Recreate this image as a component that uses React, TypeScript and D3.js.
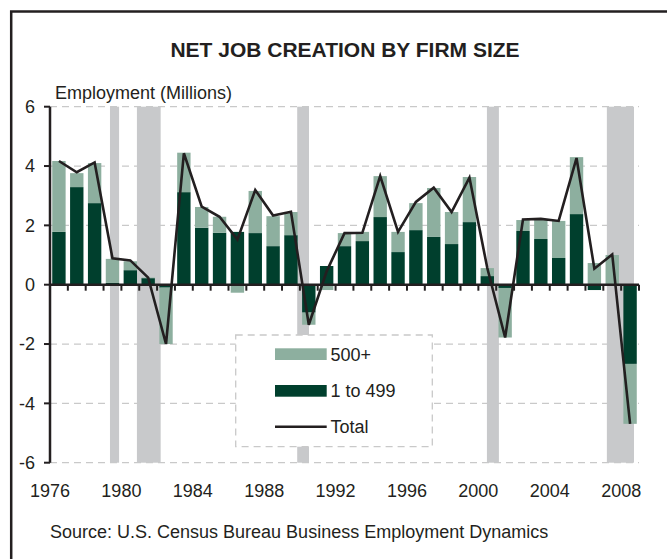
import * as d3 from "d3";

// Datos (millones de empleos)
const years = d3.range(1976, 2009);

const small = [
  1.78, 3.29, 2.75, 0.06, 0.49, 0.22, -0.1, 3.12, 1.92, 1.75, 1.78, 1.74, 1.3,
  1.67, -0.94, 0.63, 1.3, 1.47, 2.28, 1.1, 1.84, 1.61, 1.37, 2.11, 0.29, -0.11,
  1.81, 1.54, 0.9, 2.38, -0.18, 0.02, -2.67,
];

const large = [
  2.39, 0.47, 1.35, 0.81, 0.3, 0.02, -1.9, 1.33, 0.7, 0.54, -0.27, 1.42, 1.01,
  0.78, -0.41, -0.18, 0.44, 0.31, 1.38, 0.68, 0.91, 1.65, 1.08, 1.52, 0.27,
  -1.67, 0.37, 0.64, 1.25, 1.92, 0.73, 0.98, -2.02,
];

const total = [
  4.17, 3.79, 4.12, 0.89, 0.82, 0.24, -2.0, 4.43, 2.63, 2.29, 1.52, 3.19, 2.33,
  2.46, -1.35, 0.45, 1.74, 1.75, 3.66, 1.78, 2.79, 3.27, 2.45, 3.61, 0.56,
  -1.78, 2.2, 2.22, 2.15, 4.27, 0.54, 1.02, -4.69,
];

// Recesiones (en unidades del eje de años)
const recessions: [number, number][] = [
  [1979.36, 1979.87],
  [1980.87, 1982.2],
  [1989.85, 1990.51],
  [2000.48, 2001.15],
  [2007.2, 2008.72],
];

const yTickValues = [6, 4, 2, 0, -2, -4, -6];
const gridValues = [6, 4, 2, -2, -4, -6];
const xLabelYears = [1976, 1980, 1984, 1988, 1992, 1996, 2000, 2004, 2008];

const legendItems = ["500+", "1 to 499", "Total"];

const DARK = "#003f2d";
const LIGHT = "#8daf9f";
const GREY = "#c8c9cb";
const INK = "#231f20";
const GRID = "#c9c9c9";
const FONT = "Arial, 'Liberation Sans', Helvetica, sans-serif";

export default function App() {
  const width = 667;
  const height = 559;
  const left = 50;
  const right = 639;

  const y = d3.scaleLinear().domain([-6, 6]).range([462.7, 106.7]);
  const xYear = d3.scaleLinear().domain([1976, 2009]).range([left, right]);
  const xBand = d3
    .scaleBand<number>()
    .domain(years)
    .range([left, right])
    .paddingInner(0.25)
    .paddingOuter(0.125);

  const center = (yr: number) => xBand(yr)! + xBand.bandwidth() / 2;

  // Apilado divergente: 1 a 499 desde cero, 500+ encima (o debajo)
  const bars = years.map((yr, i) => {
    const s = small[i];
    const l = large[i];
    const sSeg: [number, number] = [Math.min(0, s), Math.max(0, s)];
    let lSeg: [number, number];
    if (Math.sign(l) === Math.sign(s) || s === 0) {
      lSeg = l >= 0 ? [Math.max(0, s), Math.max(0, s) + l] : [Math.min(0, s) + l, Math.min(0, s)];
    } else {
      lSeg = [Math.min(0, l), Math.max(0, l)];
    }
    return { yr, sSeg, lSeg };
  });

  const line = d3
    .line<number>()
    .x((_, i) => center(years[i]))
    .y((d) => y(d));

  const edges = d3.range(0, years.length + 1).map((i) => xYear(1976 + i));

  return (
    <div style={{ position: "fixed", left: 0, top: 0 }}>
      <svg width={width} height={height} style={{ display: "block", background: "#fff" }} fontFamily={FONT}>
        {/* marco */}
        <rect x={11.2} y={11.5} width={700} height={600} fill="none" stroke={INK} strokeWidth={2.5} />

        <text x={345} y={56.5} textAnchor="middle" fontSize={21} fontWeight="bold" fill={INK}>
          NET JOB CREATION BY FIRM SIZE
        </text>
        <text x={55} y={99.3} fontSize={18} fill={INK}>
          Employment (Millions)
        </text>

        {/* grilla */}
        {gridValues.map((v) => (
          <line
            key={v}
            x1={left}
            x2={right}
            y1={y(v)}
            y2={y(v)}
            stroke={GRID}
            strokeWidth={1.3}
            strokeDasharray="7 5"
          />
        ))}

        {/* recesiones */}
        {recessions.map(([a, b]) => (
          <rect key={a} x={xYear(a)} y={y(6)} width={xYear(b) - xYear(a)} height={y(-6) - y(6)} fill={GREY} />
        ))}

        {/* barras */}
        {bars.map((b) => (
          <g key={b.yr}>
            <rect
              x={xBand(b.yr)}
              width={xBand.bandwidth()}
              y={y(b.sSeg[1])}
              height={y(b.sSeg[0]) - y(b.sSeg[1])}
              fill={DARK}
            />
            <rect
              x={xBand(b.yr)}
              width={xBand.bandwidth()}
              y={y(b.lSeg[1])}
              height={y(b.lSeg[0]) - y(b.lSeg[1])}
              fill={LIGHT}
            />
          </g>
        ))}

        {/* eje Y */}
        <line x1={left} x2={left} y1={y(6)} y2={y(-6)} stroke={INK} strokeWidth={2.5} />
        {yTickValues.map((v) => (
          <g key={v}>
            <line x1={44} x2={left} y1={y(v)} y2={y(v)} stroke={INK} strokeWidth={2} />
            <text x={35} y={y(v)} dy="0.35em" textAnchor="end" fontSize={18} fill={INK}>
              {v}
            </text>
          </g>
        ))}

        {/* eje X en cero */}
        <line x1={left} x2={right} y1={y(0)} y2={y(0)} stroke={INK} strokeWidth={2.5} />
        {edges.map((ex, i) => (
          <line key={i} x1={ex} x2={ex} y1={y(0)} y2={y(0) + 6} stroke={INK} strokeWidth={2} />
        ))}

        {/* total */}
        <path d={line(total) || ""} fill="none" stroke={INK} strokeWidth={2.6} strokeLinejoin="miter" />

        {xLabelYears.map((yr) => (
          <text key={yr} x={xYear(yr)} y={497} textAnchor="middle" fontSize={18} fill={INK}>
            {yr}
          </text>
        ))}

        {/* leyenda */}
        <rect
          x={235.7}
          y={335}
          width={196.6}
          height={111.7}
          fill="#fff"
          stroke={GRID}
          strokeWidth={1.3}
          strokeDasharray="7 5"
        />
        <rect x={275} y={348.3} width={51.7} height={11.7} fill={LIGHT} />
        <rect x={275} y={385} width={51.7} height={11.7} fill={DARK} />
        <line x1={275} x2={326.7} y1={426.7} y2={426.7} stroke={INK} strokeWidth={2.6} />
        {legendItems.map((t, i) => (
          <text key={t} x={330.5} y={[354.2, 390.9, 426.7][i]} dy="0.35em" fontSize={18} fill={INK}>
            {t}
          </text>
        ))}

        <text x={50} y={537.7} fontSize={18} fill={INK}>
          Source: U.S. Census Bureau Business Employment Dynamics
        </text>
      </svg>
    </div>
  );
}
